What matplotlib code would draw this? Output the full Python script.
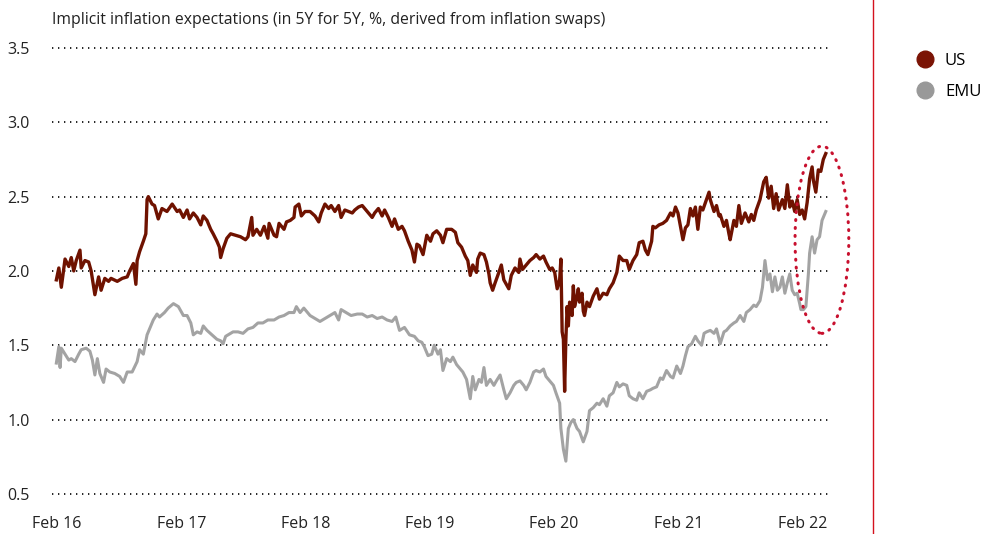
import numpy as np
import pandas as pd
import matplotlib
matplotlib.use("Agg")
import matplotlib.pyplot as plt
import matplotlib.dates as mdates
from matplotlib.patches import Ellipse
from matplotlib.lines import Line2D

plt.rcParams['font.family'] = ['Open Sans', 'DejaVu Sans']

# decimal years (Feb 2016 = 2016.085) and values
us_t = [2016.08, 2016.10, 2016.12, 2016.15, 2016.18, 2016.20, 2016.22, 2016.24, 2016.27, 2016.28,
        2016.31, 2016.34, 2016.36, 2016.39, 2016.42, 2016.44, 2016.47, 2016.50, 2016.52, 2016.57,
        2016.61, 2016.65, 2016.67, 2016.70, 2016.72, 2016.73, 2016.75, 2016.78, 2016.80, 2016.81,
        2016.82, 2016.85, 2016.87, 2016.90, 2016.93, 2016.97, 2017.01, 2017.05,
        2017.07, 2017.10, 2017.13, 2017.15, 2017.18, 2017.21, 2017.24, 2017.26, 2017.29, 2017.32,
        2017.34, 2017.37, 2017.39, 2017.40, 2017.42, 2017.45, 2017.48, 2017.52, 2017.56, 2017.60,
        2017.62, 2017.65, 2017.66, 2017.69, 2017.72, 2017.75, 2017.78, 2017.79, 2017.83, 2017.85,
        2017.87, 2017.91, 2017.93, 2017.96, 2017.99, 2018.00, 2018.03, 2018.05, 2018.08,
        2018.12, 2018.16, 2018.19, 2018.21, 2018.24, 2018.27, 2018.29, 2018.32, 2018.35, 2018.37,
        2018.40, 2018.43, 2018.46, 2018.48, 2018.51, 2018.54, 2018.56, 2018.59, 2018.62, 2018.64,
        2018.67, 2018.70, 2018.72, 2018.75, 2018.78, 2018.80, 2018.83, 2018.86, 2018.88, 2018.91,
        2018.94, 2018.96, 2018.98, 2019.00, 2019.03, 2019.06, 2019.09, 2019.11, 2019.14, 2019.17,
        2019.19, 2019.22, 2019.26, 2019.29, 2019.31, 2019.34, 2019.37, 2019.39, 2019.41, 2019.43,
        2019.46, 2019.47, 2019.49, 2019.52, 2019.54, 2019.56, 2019.57, 2019.59, 2019.61, 2019.64,
        2019.66, 2019.68, 2019.70, 2019.72, 2019.74, 2019.77, 2019.80, 2019.81, 2019.83, 2019.86,
        2019.89, 2019.92, 2019.94, 2019.97, 2020.00, 2020.02, 2020.05, 2020.07, 2020.09, 2020.11,
        2020.13, 2020.14, 2020.15, 2020.16, 2020.17,
        2020.18, 2020.19, 2020.20, 2020.21, 2020.23, 2020.24, 2020.25, 2020.27, 2020.28, 2020.29,
        2020.31, 2020.32, 2020.33, 2020.35, 2020.37, 2020.40, 2020.43, 2020.45, 2020.48, 2020.51,
        2020.53, 2020.56, 2020.59, 2020.61, 2020.64, 2020.67, 2020.69, 2020.72, 2020.75, 2020.77,
        2020.80, 2020.82, 2020.84, 2020.87, 2020.88, 2020.90, 2020.93, 2020.96, 2020.99, 2021.02,
        2021.04, 2021.06, 2021.08, 2021.10, 2021.12, 2021.14, 2021.16, 2021.18, 2021.20, 2021.22,
        2021.24, 2021.26, 2021.28,
        2021.33, 2021.34, 2021.37, 2021.39, 2021.41, 2021.42, 2021.45, 2021.47, 2021.49, 2021.50,
        2021.53, 2021.55, 2021.57, 2021.59, 2021.62, 2021.65, 2021.67, 2021.69, 2021.71, 2021.74,
        2021.77, 2021.79, 2021.81, 2021.83, 2021.85, 2021.87, 2021.89, 2021.92, 2021.94, 2021.96,
        2021.98, 2022.00, 2022.02, 2022.04, 2022.06, 2022.08, 2022.10, 2022.12, 2022.14, 2022.16,
        2022.17, 2022.19, 2022.21, 2022.23, 2022.25, 2022.27]
us_v = [1.94, 2.02, 1.89, 2.08, 2.03, 2.09, 2.00, 2.07, 2.14, 2.02,
        2.07, 2.06, 2.00, 1.84, 1.96, 1.87, 1.95, 1.93, 1.95, 1.93,
        1.95, 1.96, 2.00, 2.05, 1.91, 2.07, 2.13, 2.20, 2.25, 2.48,
        2.50, 2.45, 2.44, 2.35, 2.42, 2.40, 2.45, 2.40,
        2.41, 2.36, 2.41, 2.35, 2.39, 2.36, 2.31, 2.37, 2.34, 2.28,
        2.25, 2.20, 2.16, 2.09, 2.15, 2.22, 2.25, 2.24, 2.23, 2.21,
        2.23, 2.36, 2.24, 2.28, 2.24, 2.30, 2.22, 2.32, 2.24, 2.23,
        2.32, 2.28, 2.33, 2.34, 2.36, 2.43, 2.45, 2.37, 2.40,
        2.40, 2.37, 2.33, 2.39, 2.45, 2.42, 2.44, 2.40, 2.44, 2.36,
        2.41, 2.40, 2.39, 2.41, 2.43, 2.44, 2.42, 2.39, 2.36, 2.39,
        2.42, 2.37, 2.41, 2.36, 2.30, 2.35, 2.28, 2.30, 2.27, 2.20,
        2.14, 2.06, 2.18, 2.17, 2.11, 2.24, 2.20, 2.25, 2.27, 2.24,
        2.19, 2.28, 2.28, 2.26, 2.19, 2.16, 2.10, 2.07, 1.97, 2.04,
        1.99, 2.08, 2.12, 2.11, 2.06, 1.98, 1.92, 1.87, 1.92, 1.99,
        2.04, 1.94, 1.91, 1.88, 1.97, 2.02, 1.99, 2.08, 2.01, 2.04,
        2.07, 2.09, 2.11, 2.08, 2.10, 2.06, 2.01, 2.02, 1.99, 1.88,
        1.94, 2.08, 1.59, 1.54, 1.19,
        1.54, 1.76, 1.63, 1.79, 1.70, 1.90, 1.76, 1.83, 1.88, 1.79,
        1.85, 1.73, 1.70, 1.79, 1.76, 1.83, 1.88, 1.81, 1.85, 1.84,
        1.88, 1.92, 1.99, 2.10, 2.07, 2.07, 2.01, 2.07, 2.11, 2.19,
        2.20, 2.14, 2.11, 2.20, 2.30, 2.29, 2.31, 2.32, 2.34, 2.39,
        2.37, 2.43, 2.39, 2.30, 2.21, 2.29, 2.31, 2.42, 2.37, 2.43,
        2.28, 2.43, 2.41,
        2.53, 2.48, 2.40, 2.44, 2.37, 2.38, 2.30, 2.34, 2.25, 2.21,
        2.34, 2.30, 2.44, 2.32, 2.39, 2.33, 2.38, 2.34, 2.41, 2.48,
        2.60, 2.63, 2.49, 2.57, 2.42, 2.52, 2.41, 2.48, 2.42, 2.58,
        2.43, 2.47, 2.40, 2.48, 2.38, 2.41, 2.35, 2.46, 2.62, 2.70,
        2.61, 2.53, 2.68, 2.67, 2.75, 2.79]

emu_t = [2016.08, 2016.10, 2016.11, 2016.12, 2016.15, 2016.18, 2016.20, 2016.23, 2016.26, 2016.28,
         2016.32, 2016.35, 2016.37, 2016.39, 2016.41, 2016.43, 2016.46, 2016.48, 2016.51, 2016.55,
         2016.59, 2016.62, 2016.65, 2016.69, 2016.73, 2016.75, 2016.78, 2016.81, 2016.83, 2016.86,
         2016.89, 2016.91, 2016.95, 2016.98, 2017.02, 2017.06,
         2017.10, 2017.13, 2017.16, 2017.18, 2017.21, 2017.24, 2017.26, 2017.29, 2017.33, 2017.37,
         2017.40, 2017.42, 2017.44, 2017.46, 2017.50, 2017.54, 2017.58, 2017.62, 2017.66, 2017.70,
         2017.74, 2017.78, 2017.83, 2017.87, 2017.91, 2017.95, 2017.99, 2018.01, 2018.04, 2018.07,
         2018.12, 2018.16, 2018.20, 2018.24, 2018.28, 2018.32, 2018.35, 2018.37, 2018.41, 2018.45,
         2018.50, 2018.54, 2018.58, 2018.62, 2018.66, 2018.70, 2018.74, 2018.78, 2018.81, 2018.84,
         2018.88, 2018.92, 2018.96, 2018.99, 2019.02, 2019.04, 2019.07, 2019.10, 2019.12, 2019.15,
         2019.17, 2019.19, 2019.22, 2019.25, 2019.27, 2019.30, 2019.33, 2019.35, 2019.38, 2019.41,
         2019.43, 2019.45, 2019.48, 2019.50, 2019.52, 2019.54, 2019.57, 2019.60, 2019.62, 2019.65,
         2019.68, 2019.70, 2019.73, 2019.76, 2019.78, 2019.81, 2019.84, 2019.86, 2019.89, 2019.92,
         2019.94, 2019.97, 2020.00, 2020.02, 2020.05, 2020.08, 2020.10, 2020.13, 2020.14, 2020.16,
         2020.18,
         2020.20, 2020.22, 2020.24, 2020.27, 2020.29, 2020.32, 2020.35, 2020.37, 2020.40, 2020.43,
         2020.45, 2020.48, 2020.51, 2020.53, 2020.56, 2020.59, 2020.61, 2020.64, 2020.67, 2020.69,
         2020.72, 2020.75, 2020.77,
         2020.80, 2020.83, 2020.86, 2020.88, 2020.91, 2020.94, 2020.96, 2020.99, 2021.02, 2021.04,
         2021.07, 2021.10, 2021.12, 2021.14, 2021.16, 2021.19, 2021.22, 2021.24, 2021.27,
         2021.29, 2021.31, 2021.34, 2021.37, 2021.39, 2021.42, 2021.45, 2021.47, 2021.50, 2021.53,
         2021.55, 2021.58, 2021.61, 2021.63, 2021.66, 2021.69, 2021.71, 2021.74, 2021.76, 2021.78,
         2021.80, 2021.82, 2021.84, 2021.86, 2021.88, 2021.90, 2021.92, 2021.94, 2021.96, 2021.98,
         2022.00, 2022.02, 2022.04, 2022.06, 2022.07, 2022.09, 2022.11, 2022.13, 2022.14, 2022.16,
         2022.18, 2022.20, 2022.22, 2022.24, 2022.27]
emu_v = [1.38, 1.49, 1.35, 1.48, 1.44, 1.40, 1.41, 1.39, 1.44, 1.47,
         1.48, 1.46, 1.40, 1.30, 1.41, 1.31, 1.25, 1.34, 1.32, 1.31,
         1.29, 1.25, 1.32, 1.32, 1.39, 1.47, 1.44, 1.57, 1.61, 1.67,
         1.71, 1.69, 1.72, 1.75, 1.78, 1.76,
         1.70, 1.70, 1.65, 1.57, 1.59, 1.58, 1.63, 1.60, 1.57, 1.54,
         1.53, 1.51, 1.56, 1.57, 1.59, 1.59, 1.58, 1.61, 1.62, 1.65,
         1.65, 1.67, 1.67, 1.69, 1.70, 1.72, 1.72, 1.76, 1.72, 1.75,
         1.70, 1.68, 1.66, 1.68, 1.70, 1.72, 1.67, 1.74, 1.72, 1.70,
         1.71, 1.71, 1.69, 1.70, 1.68, 1.69, 1.67, 1.66, 1.69, 1.60,
         1.62, 1.57, 1.56, 1.53, 1.52, 1.49, 1.43, 1.44, 1.50, 1.44,
         1.47, 1.33, 1.41, 1.39, 1.42, 1.37, 1.34, 1.32, 1.27, 1.14,
         1.29, 1.20, 1.27, 1.25, 1.35, 1.23, 1.27, 1.23, 1.26, 1.30,
         1.20, 1.14, 1.18, 1.23, 1.25, 1.26, 1.23, 1.20, 1.25, 1.32,
         1.33, 1.32, 1.34, 1.29, 1.26, 1.23, 1.18, 1.11, 0.94, 0.80,
         0.72,
         0.94, 0.98, 1.00, 0.94, 0.92, 0.85, 0.92, 1.06, 1.08, 1.11,
         1.10, 1.14, 1.09, 1.16, 1.18, 1.25, 1.22, 1.24, 1.23, 1.16,
         1.14, 1.13, 1.18,
         1.14, 1.19, 1.20, 1.21, 1.22, 1.28, 1.27, 1.33, 1.29, 1.28,
         1.36, 1.31, 1.36, 1.43, 1.49, 1.51, 1.56, 1.53, 1.50,
         1.58, 1.59, 1.60, 1.58, 1.61, 1.51, 1.59, 1.60, 1.63, 1.65,
         1.66, 1.70, 1.66, 1.72, 1.74, 1.77, 1.76, 1.80, 1.89, 2.07,
         1.94, 1.98, 1.86, 1.96, 1.87, 1.89, 1.96, 1.85, 1.92, 1.98,
         1.87, 1.84, 1.85, 1.78, 1.74, 1.74, 1.76, 1.98, 2.12, 2.23,
         2.12, 2.21, 2.23, 2.34, 2.40]

yticks = [0.5, 1.0, 1.5, 2.0, 2.5, 3.0, 3.5]
tick_years = [2016, 2017, 2018, 2019, 2020, 2021, 2022]
title = "Implicit inflation expectations (in 5Y for 5Y, %, derived from inflation swaps)"


def to_dates(years):
    out = []
    for y in years:
        yr = int(y)
        out.append(pd.Timestamp(yr, 1, 1) + pd.Timedelta(days=(y - yr) * 365.25))
    return out


us_dates = to_dates(us_t)
emu_dates = to_dates(emu_t)

fig = plt.figure(figsize=(9.9, 5.34), dpi=100)
ax = fig.add_axes([52 / 990, 1 - 505 / 534, 778 / 990, 465 / 534])

for y in yticks:
    ax.axhline(y, color='black', lw=1.2, ls=(0, (0.8, 2.8)), zorder=0)

ax.plot(emu_dates, emu_v, color='#a3a3a3', lw=2.2, zorder=2)
ax.plot(us_dates, us_v, color='#6f1200', lw=2.4, zorder=3)

# highlight ellipse around the latest move
cx = mdates.date2num(to_dates([2022.239])[0])
ell = Ellipse((cx, 2.21), width=158, height=1.26, fill=False,
              edgecolor='#c8102e', lw=2.2, ls=(0, (0.3, 2.3)), zorder=4, clip_on=False)
ell.set_capstyle('round')
ax.add_patch(ell)

ax.set_ylim(0.425, 3.554)
ax.set_xlim(to_dates([2016.045])[0], to_dates([2022.304])[0])
ax.set_yticks(yticks)
ax.set_yticklabels([f"{v:.1f}" for v in yticks])
xt = [pd.Timestamp(y, 2, 1) for y in tick_years]
ax.set_xticks(xt)
ax.set_xticklabels([t.strftime('%b %y') for t in xt])
ax.tick_params(axis='both', length=0, labelsize=11.5, colors='#222222')
ax.tick_params(axis='y', pad=16)
ax.tick_params(axis='x', pad=8)
for s in ax.spines.values():
    s.set_visible(False)

fig.text(52 / 990, 1 - 20 / 534, title, fontsize=11.3, va='center', ha='left', color='#222222')

# red separator line
fig.add_artist(Line2D([873 / 990, 873 / 990], [0, 1], color='#d4111e', lw=1.0))

handles = [Line2D([], [], marker='o', ls='none', ms=12, color='#7b1405'),
           Line2D([], [], marker='o', ls='none', ms=12, color='#999999')]
fig.legend(handles, ['US', 'EMU'], loc='upper left', bbox_to_anchor=(915 / 990, 1 - 53 / 534),
           frameon=False, fontsize=12, handletextpad=0.6, labelspacing=0.9,
           borderaxespad=0, borderpad=0, handlelength=1.2)

plt.savefig('out.png', dpi=100)
